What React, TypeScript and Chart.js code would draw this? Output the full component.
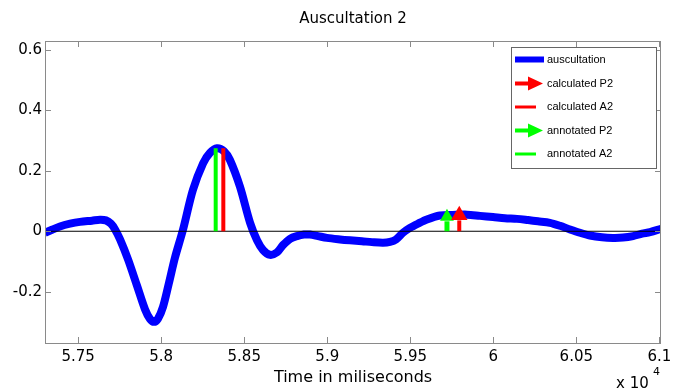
import { useEffect, useRef } from "react";
import { Chart, registerables } from "chart.js";

Chart.register(...registerables);

// ---- data ----
const timeMs = [
  57300, 57342, 57390, 57451, 57511, 57583, 57631, 57667, 57697, 57722,
  57752, 57800, 57854, 57902, 57932, 57956, 57980, 58011, 58047, 58083,
  58131, 58191, 58252, 58294, 58336, 58378, 58414, 58474, 58535, 58577,
  58613, 58655, 58697, 58733, 58776, 58818, 58860, 58896, 58944, 58998,
  59077, 59137, 59209, 59269, 59336, 59378, 59414, 59456, 59498, 59546,
  59600, 59679, 59757, 59842, 59920, 59998, 60070, 60143, 60209, 60269,
  60341, 60402, 60462, 60522, 60582, 60655, 60721, 60781, 60842, 60896,
  60944, 61010,
];
const auscultation = [
  -0.005, 0.005, 0.016, 0.025, 0.031, 0.035, 0.038, 0.036, 0.025, 0.006,
  -0.027, -0.093, -0.18, -0.258, -0.29, -0.3, -0.29, -0.25, -0.17, -0.087,
  0.005, 0.137, 0.225, 0.26, 0.275, 0.265, 0.236, 0.148, 0.028, -0.03,
  -0.062, -0.078, -0.07, -0.046, -0.025, -0.016, -0.011, -0.011, -0.016, -0.022,
  -0.027, -0.03, -0.033, -0.036, -0.038, -0.035, -0.027, -0.005, 0.011, 0.025,
  0.039, 0.052, 0.054, 0.055, 0.051, 0.047, 0.043, 0.041, 0.037, 0.033,
  0.028, 0.018, 0.006, -0.005, -0.014, -0.02, -0.022, -0.021, -0.016, -0.008,
  -0.003, 0.008,
];

const calculatedA2 = { x: 58374, y: 0.275 };
const annotatedA2 = { x: 58328, y: 0.275 };
const calculatedP2 = { x: 59795, y: 0.053 };
const annotatedP2 = { x: 59721, y: 0.048 };
const p2ShaftTop = [0.036, 0.033]; // calculated, annotated

const xTicks = [57500, 58000, 58500, 59000, 59500, 60000, 60500, 61000];
const yTicks = [-0.2, 0, 0.2, 0.4, 0.6];
const xRange = [57300, 61010];
const yRange = [-0.37, 0.63];

const titleText = "Auscultation 2";
const xTitleText = "Time in miliseconds";
const xExponentBase = "x 10";
const xExponent = "4";
const legendLabels = [
  "auscultation",
  "calculated P2",
  "calculated A2",
  "annotated P2",
  "annotated A2",
];

const BLUE = "#0000ff";
const RED = "#ff0000";
const GREEN = "#00ff00";
const AXIS = "#8a8a8a";
const FONT = '"DejaVu Sans"';
const LFONT = '"Liberation Sans"';

const framePlugin = {
  id: "matlabFrame",
  afterDraw(chart: any) {
    const { ctx, chartArea: a, scales } = chart;
    const xs = scales.x;
    const ys = scales.y;
    ctx.save();
    // box
    ctx.strokeStyle = AXIS;
    ctx.lineWidth = 1;
    ctx.strokeRect(a.left + 0.5, a.top + 0.5, a.right - a.left - 1, a.bottom - a.top);
    // inward ticks on all four sides
    const tl = 6;
    ctx.beginPath();
    for (const v of xTicks) {
      const px = Math.round(xs.getPixelForValue(v)) + 0.5;
      ctx.moveTo(px, a.bottom);
      ctx.lineTo(px, a.bottom - tl);
      ctx.moveTo(px, a.top);
      ctx.lineTo(px, a.top + tl);
    }
    for (const v of yTicks) {
      const py = Math.round(ys.getPixelForValue(v)) + 0.5;
      ctx.moveTo(a.left, py);
      ctx.lineTo(a.left + tl, py);
      ctx.moveTo(a.right, py);
      ctx.lineTo(a.right - tl, py);
    }
    ctx.stroke();

    // texts
    const cx = (a.left + a.right) / 2;
    ctx.fillStyle = "#000";
    ctx.textAlign = "center";
    ctx.textBaseline = "middle";
    ctx.font = `15px ${FONT}`;
    ctx.fillText(titleText, cx, 19);
    ctx.font = `16px ${FONT}`;
    ctx.fillText(xTitleText, cx, 378);
    ctx.textAlign = "left";
    ctx.font = `15px ${FONT}`;
    ctx.fillText(xExponentBase, 616, 384);
    ctx.font = `11px ${FONT}`;
    ctx.fillText(xExponent, 653, 372);

    // legend
    const lx = 511, ly = 47, lw = 145, lh = 121;
    ctx.fillStyle = "#fff";
    ctx.fillRect(lx, ly, lw, lh);
    ctx.strokeStyle = "#666";
    ctx.lineWidth = 1;
    ctx.strokeRect(lx + 0.5, ly + 0.5, lw, lh);
    const rows = [59.5, 83.5, 107, 130.5, 154];
    const colors = [BLUE, RED, RED, GREEN, GREEN];
    const kinds = ["thick", "arrow", "line", "arrow", "line"];
    ctx.font = `11px ${LFONT}`;
    ctx.textBaseline = "middle";
    rows.forEach((ry, i) => {
      const c = colors[i];
      ctx.strokeStyle = c;
      ctx.fillStyle = c;
      if (kinds[i] === "thick") {
        ctx.lineWidth = 6;
        ctx.beginPath();
        ctx.moveTo(515, ry);
        ctx.lineTo(544, ry);
        ctx.stroke();
      } else if (kinds[i] === "line") {
        ctx.lineWidth = 3;
        ctx.beginPath();
        ctx.moveTo(515, ry);
        ctx.lineTo(536, ry);
        ctx.stroke();
      } else {
        ctx.lineWidth = 4;
        ctx.beginPath();
        ctx.moveTo(515, ry);
        ctx.lineTo(531, ry);
        ctx.stroke();
        ctx.beginPath();
        ctx.moveTo(528, ry - 7);
        ctx.lineTo(543, ry);
        ctx.lineTo(528, ry + 7);
        ctx.closePath();
        ctx.fill();
      }
      ctx.fillStyle = "#000";
      ctx.fillText(legendLabels[i], 547, ry);
    });
    ctx.restore();
  },
};

export default function App() {
  const ref = useRef<HTMLCanvasElement | null>(null);
  useEffect(() => {
    if (!ref.current) return;
    const curve = timeMs.map((t, i) => ({ x: t, y: auscultation[i] }));
    const chart = new Chart(ref.current, {
      type: "line",
      data: {
        datasets: [
          {
            label: "calculated P2 head",
            data: [calculatedP2],
            showLine: false,
            pointStyle: "triangle",
            pointRadius: 9.5,
            pointBackgroundColor: RED,
            pointBorderWidth: 0,
          },
          {
            label: "annotated P2 head",
            data: [annotatedP2],
            showLine: false,
            pointStyle: "triangle",
            pointRadius: 8,
            pointBackgroundColor: GREEN,
            pointBorderWidth: 0,
          },
          {
            label: "calculated P2",
            data: [
              { x: calculatedP2.x, y: 0 },
              { x: calculatedP2.x, y: p2ShaftTop[0] },
            ],
            borderColor: RED,
            borderWidth: 4,
            pointRadius: 0,
          },
          {
            label: "annotated P2",
            data: [
              { x: annotatedP2.x, y: 0 },
              { x: annotatedP2.x, y: p2ShaftTop[1] },
            ],
            borderColor: GREEN,
            borderWidth: 5,
            pointRadius: 0,
          },
          {
            label: "calculated A2",
            data: [
              { x: calculatedA2.x, y: 0 },
              { x: calculatedA2.x, y: calculatedA2.y },
            ],
            borderColor: RED,
            borderWidth: 4,
            pointRadius: 0,
          },
          {
            label: "annotated A2",
            data: [
              { x: annotatedA2.x, y: 0 },
              { x: annotatedA2.x, y: annotatedA2.y },
            ],
            borderColor: GREEN,
            borderWidth: 4,
            pointRadius: 0,
          },
          {
            label: "zero",
            data: [
              { x: xRange[0], y: 0 },
              { x: xRange[1], y: 0 },
            ],
            borderColor: "#000",
            borderWidth: 1.2,
            pointRadius: 0,
          },
          {
            label: "auscultation",
            data: curve,
            borderColor: BLUE,
            borderWidth: 8,
            pointRadius: 0,
            tension: 0.3,
            clip: 0,
          },
        ],
      },
      options: {
        animation: false,
        responsive: false,
        devicePixelRatio: 1,
        layout: { padding: { top: 41, right: 19, left: 0, bottom: 0 } },
        plugins: {
          legend: { display: false },
          title: { display: false },
          tooltip: { enabled: false },
        },
        scales: {
          x: {
            type: "linear",
            min: xRange[0],
            max: xRange[1],
            afterBuildTicks: (s: any) => {
              s.ticks = xTicks.map((v) => ({ value: v }));
            },
            afterFit: (s: any) => {
              s.height = 47;
            },
            grid: { display: false, drawTicks: false },
            border: { display: false },
            ticks: {
              padding: 5,
              maxRotation: 0,
              autoSkip: false,
              color: "#000",
              font: { family: "DejaVu Sans", size: 15 },
              callback: (v: any) => String(Number((Number(v) / 10000).toFixed(2))),
            },
          },
          y: {
            type: "linear",
            min: yRange[0],
            max: yRange[1],
            afterBuildTicks: (s: any) => {
              s.ticks = yTicks.map((v) => ({ value: v }));
            },
            afterFit: (s: any) => {
              s.width = 45;
            },
            grid: { display: false, drawTicks: false },
            border: { display: false },
            ticks: {
              padding: 3,
              autoSkip: false,
              color: "#000",
              font: { family: "DejaVu Sans", size: 15 },
              callback: (v: any) => String(Number(Number(v).toFixed(1))),
            },
          },
        },
      },
      plugins: [framePlugin],
    } as any);
    return () => chart.destroy();
  }, []);
  return (
    <div style={{ position: "fixed", left: 0, top: 0, width: 680, height: 390, background: "#fff" }}>
      <canvas ref={ref} width={680} height={390} style={{ width: 680, height: 390 }} />
    </div>
  );
}
